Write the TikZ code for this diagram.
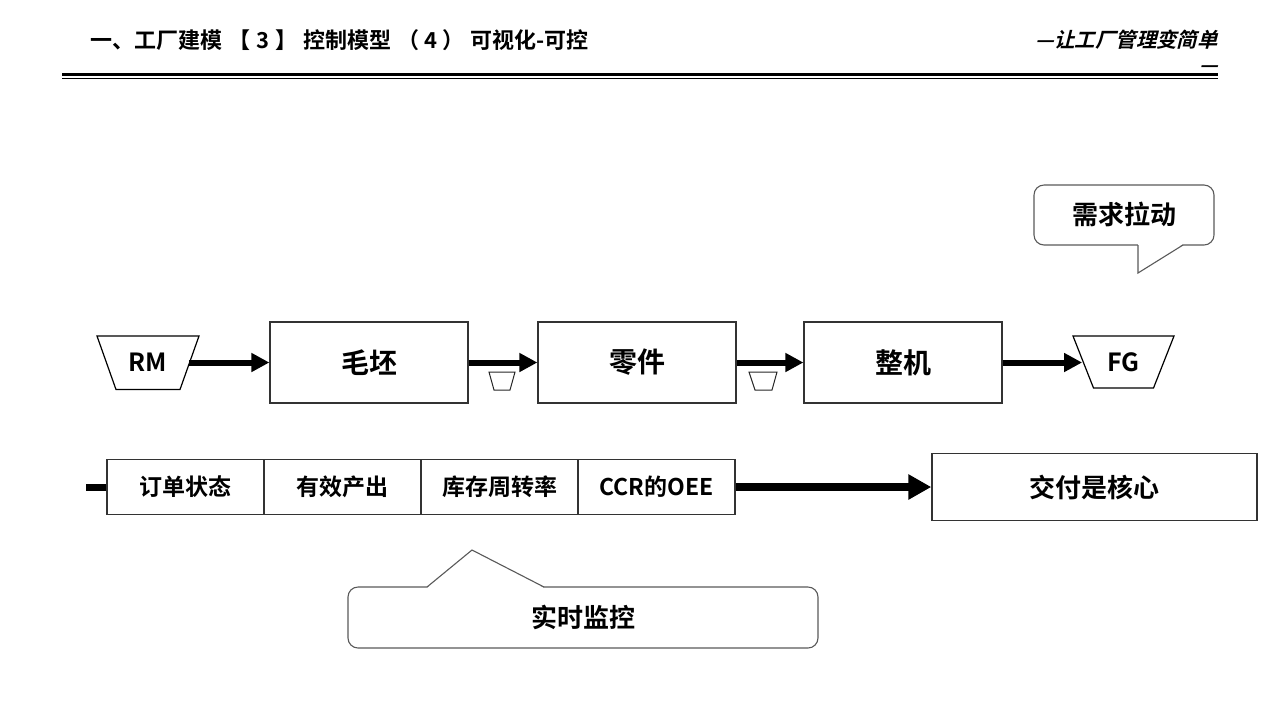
\documentclass[tikz,border=0pt]{standalone}
\usepackage{fontspec}
\setmainfont{Noto Sans CJK SC Bold}
\newfontfamily\tagfont{Noto Sans CJK SC Bold}[FakeSlant=0.25]
\usetikzlibrary{arrows.meta,calc}
\begin{document}
\begin{tikzpicture}[x=0.5pt,y=-0.5pt,
  box/.style={draw=black!80, line width=0.6pt, inner sep=0pt, minimum height=40.5pt, minimum width=99pt, font=\fontsize{14}{16}\selectfont},
  cell/.style={draw=black!80, line width=0.6pt, inner sep=0pt, minimum height=27.5pt, minimum width=78.5pt, font=\fontsize{11.5}{13}\selectfont},
  tag/.style={inner sep=0pt, minimum width=41pt, minimum height=27pt, font=\fontsize{12.5}{14}\selectfont},
  trap/.style={draw=black, line width=0.6pt},
  buf/.style={draw=black!85, line width=0.5pt},
  flow/.style={line width=3pt, -{Triangle[length=9pt,width=9pt]}},
  bigflow/.style={line width=4pt, -{Triangle[length=11.5pt,width=12pt]}},
  callout/.style={draw=black!65, line width=0.55pt},
  calltext/.style={inner sep=0pt, font=\fontsize{13}{15}\selectfont}
]
\useasboundingbox (0,0) rectangle (1280,720);

% header
\node[anchor=west, inner sep=0pt, font=\fontsize{11}{13}\selectfont] (title) at (90,40) {一、工厂建模\hspace{3pt}【\hspace{3pt}3\hspace{3pt}】\hspace{3pt}控制模型\hspace{3pt}（\hspace{2.5pt}4\hspace{2.5pt}）\hspace{3pt}可视化-可控};
\node[anchor=east, inner sep=0pt, font=\tagfont\fontsize{10.2}{12}\selectfont] (slogan) at (1218,40) {—让工厂管理变简单};
\node[anchor=east, inner sep=0pt, font=\tagfont\fontsize{10.2}{12}\selectfont] (slogan2) at (1218,69) {—};
\draw[line width=1.5pt] (62,74.5) -- (1218,74.5);
\draw[line width=0.5pt] (62,78.6) -- (1218,78.6);

% row 1
\node[tag] (rm) at (148,362.5) {RM};
\draw[trap] ($(rm.center)+(-51,-26.5)$) -- ($(rm.center)+(51,-26.5)$) -- ($(rm.center)+(32,27)$) -- ($(rm.center)+(-32,27)$) -- cycle;
\node[box] (mp) at (369,362.5) {毛坯};
\node[box] (lj) at (637,362.5) {零件};
\node[box] (zj) at (903,362.5) {整机};
\node[tag] (fg) at (1123.5,362.5) {FG};
\draw[trap] ($(fg.center)+(-50.5,-26.5)$) -- ($(fg.center)+(50.5,-26.5)$) -- ($(fg.center)+(30,25.5)$) -- ($(fg.center)+(-30,25.5)$) -- cycle;

\draw[flow] (rm.east) -- (mp.west);
\draw[flow] (mp.east) -- (lj.west);
\draw[flow] (lj.east) -- (zj.west);
\draw[flow] (zj.east) -- (fg.west);

% buffers
\draw[buf] (489,372) -- (515,372) -- (510,390) -- (494,390) -- cycle;
\draw[buf] (749,372) -- (777,372) -- (772,390) -- (755,390) -- cycle;

% row 2
\node[cell] (c1) at (185.5,487) {订单状态};
\node[cell] (c2) at (342.5,487) {有效产出};
\node[cell] (c3) at (499.5,487) {库存周转率};
\node[cell] (c4) at (656.5,487) {CCR的OEE};
\coordinate (stub) at (86,487);
\draw[line width=3.5pt] (stub) -- (c1.west);
\node[draw=black!80, line width=0.7pt, inner sep=0pt, minimum width=162.5pt, minimum height=33.5pt, font=\fontsize{13}{15}\selectfont] (jf) at (1094.5,487) {交付是核心};
\draw[bigflow] (c4.east) -- (jf.west);

% callout: demand pull
\node[calltext] (pull) at (1124,214) {需求拉动};
\draw[callout, rounded corners=5pt] (1034,185) rectangle (1214,245);
\fill[white] (1138,244) -- (1138,273) -- (1183,244) -- cycle;
\draw[callout, line join=miter] (1138,245) -- (1138,273) -- (1183,245);

% callout: real-time monitoring
\node[calltext] (mon) at (583,617) {实时监控};
\draw[callout, rounded corners=5pt] (348,587) rectangle (818,648);
\fill[white] (427,588) -- (472,550) -- (544,588) -- cycle;
\draw[callout] (427,587) -- (472,550) -- (544,587);
\end{tikzpicture}
\end{document}
